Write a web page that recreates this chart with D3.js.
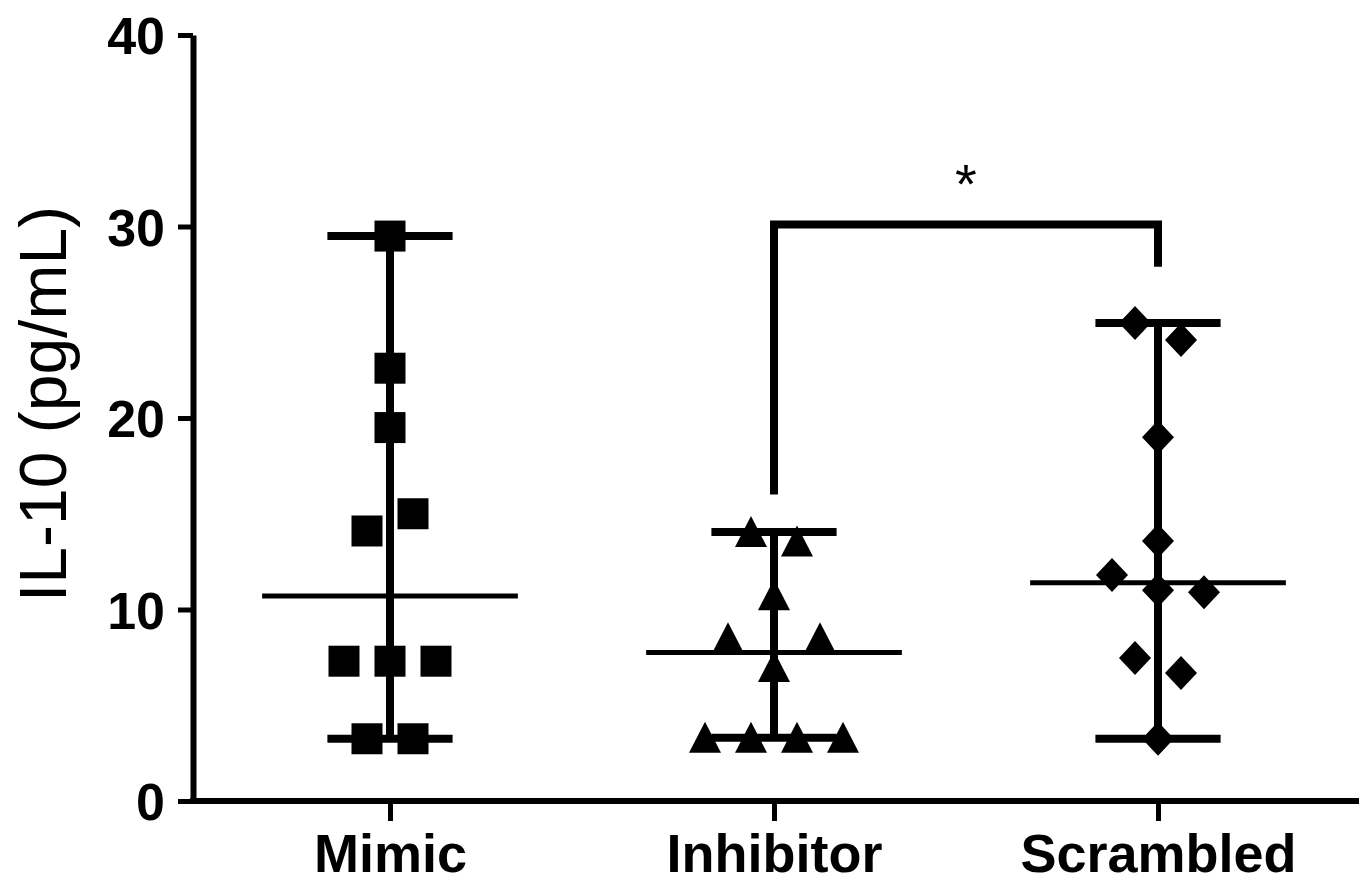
<!DOCTYPE html>
<html>
<head>
<meta charset="utf-8">
<script src="https://cdn.jsdelivr.net/npm/d3@7"></script>
<style>
  body { margin: 0; background: #fff; }
  text { font-family: "Liberation Sans", Arial, sans-serif; fill: #000; }
</style>
</head>
<body>
<script>
// groups and IL-10 values (pg/mL)
var categories = ["Mimic", "Inhibitor", "Scrambled"];
var mimicValues = [29.5, 22.6, 19.5, 14.1, 15.0, 7.3, 7.3, 7.3, 3.25, 3.25];
var inhibitorValues = [14.05, 13.55, 10.75, 8.5, 7.0, 8.5, 3.3, 3.3, 3.3, 3.3];
var scrambledValues = [24.96, 24.07, 19.0, 13.58, 11.8, 11.0, 10.9, 7.47, 6.68, 3.25];
var symbols = ["square", "triangle", "diamond"];
var yTicks = [0, 10, 20, 30, 40];

// significance bracket (data units)
var sigPair = ["Inhibitor", "Scrambled"];
var sigLegs = [16.0, 27.9];
var sigTop = 30.1;
var sigLabel = "*";

var groups = [mimicValues, inhibitorValues, scrambledValues];

window.onload = drawChart();

function drawChart() {
    var width = 1359,
        height = 884;

    var svg = d3.select("body")
        .append("svg")
        .attr("width", width)
        .attr("height", height);

    var y = d3.scaleLinear()
        .domain([0, 40])
        .range([801, 35]);

    var x = d3.scalePoint()
        .domain(categories)
        .range([193, 1355])
        .padding(0.513);

    var step = x.step();
    var medianHalf = step * 0.333,
        capHalf = step * 0.163,
        slot = 46;

    //y axis
    var yAxis = svg.append("g")
        .attr("transform", "translate(193,0)")
        .call(d3.axisLeft(y).tickValues(yTicks).tickSize(15).tickSizeOuter(0).tickPadding(13));
    yAxis.select(".domain").attr("stroke", "#000").attr("stroke-width", 6);
    yAxis.selectAll(".tick line").attr("stroke", "#000").attr("stroke-width", 5);
    yAxis.selectAll(".tick text")
        .attr("font-size", 52)
        .attr("font-weight", "bold")
        .attr("dy", "0.36em");

    //x axis
    var xAxis = svg.append("g")
        .attr("transform", "translate(0,801)")
        .call(d3.axisBottom(x).tickSize(20).tickSizeOuter(0).tickPadding(0));
    xAxis.select(".domain").remove();
    xAxis.append("line")
        .attr("x1", 190).attr("x2", width)
        .attr("stroke", "#000").attr("stroke-width", 6);
    xAxis.selectAll(".tick line").attr("stroke", "#000").attr("stroke-width", 5);
    xAxis.selectAll(".tick text")
        .attr("font-size", 54)
        .attr("font-weight", "bold")
        .attr("y", 71)
        .attr("dy", null);

    //y label
    svg.append("text")
        .attr("transform", "translate(66,404) rotate(-90)")
        .attr("text-anchor", "middle")
        .attr("font-size", 66)
        .text("IL-10 (pg/mL)");

    var shapes = {
        square: "M-15.5,-15.5H15.5V15.5H-15.5Z",
        triangle: "M0,-16L16,15H-16Z",
        diamond: "M0,-17L16,0L0,17L-16,0Z"
    };

    groups.forEach(function (vals, gi) {
        var cx = x(categories[gi]);
        var med = d3.median(vals),
            lo = d3.min(vals),
            hi = d3.max(vals);
        var g = svg.append("g").attr("class", "group " + categories[gi]);

        //median
        g.append("line")
            .attr("x1", cx - medianHalf).attr("x2", cx + medianHalf)
            .attr("y1", y(med)).attr("y2", y(med))
            .attr("stroke", "#000").attr("stroke-width", 5);

        //range
        g.append("line")
            .attr("x1", cx).attr("x2", cx)
            .attr("y1", y(lo)).attr("y2", y(hi))
            .attr("stroke", "#000").attr("stroke-width", 8);
        [lo, hi].forEach(function (v) {
            g.append("line")
                .attr("x1", cx - capHalf).attr("x2", cx + capHalf)
                .attr("y1", y(v)).attr("y2", y(v))
                .attr("stroke", "#000").attr("stroke-width", 8);
        });

        //spread points that overlap into rows
        var pts = vals.map(function (v, i) { return { v: v, i: i }; });
        var sorted = pts.slice().sort(function (a, b) { return b.v - a.v || a.i - b.i; });
        var rows = [];
        sorted.forEach(function (p) {
            var row = rows[rows.length - 1];
            if (row && row[0].v - p.v < 1.6) row.push(p);
            else rows.push([p]);
        });
        rows.forEach(function (row) {
            row.sort(function (a, b) { return a.i - b.i; });
            row.forEach(function (p, k) {
                p.dx = (k - (row.length - 1) / 2) * slot;
            });
        });

        g.selectAll("path.pt")
            .data(pts)
            .enter()
            .append("path")
            .attr("class", "pt")
            .attr("d", shapes[symbols[gi]])
            .attr("transform", function (d) {
                return "translate(" + (cx + d.dx) + "," + y(d.v) + ")";
            })
            .attr("fill", "#000");
    });

    //significance bracket
    var bx1 = x(sigPair[0]),
        bx2 = x(sigPair[1]);
    svg.append("path")
        .attr("d", "M" + bx1 + "," + y(sigLegs[0]) + "V" + y(sigTop) + "H" + bx2 + "V" + y(sigLegs[1]))
        .attr("fill", "none")
        .attr("stroke", "#000")
        .attr("stroke-width", 8);
    svg.append("text")
        .attr("x", (bx1 + bx2) / 2)
        .attr("y", 203)
        .attr("text-anchor", "middle")
        .attr("font-size", 56)
        .text(sigLabel);
}
</script>
</body>
</html>
